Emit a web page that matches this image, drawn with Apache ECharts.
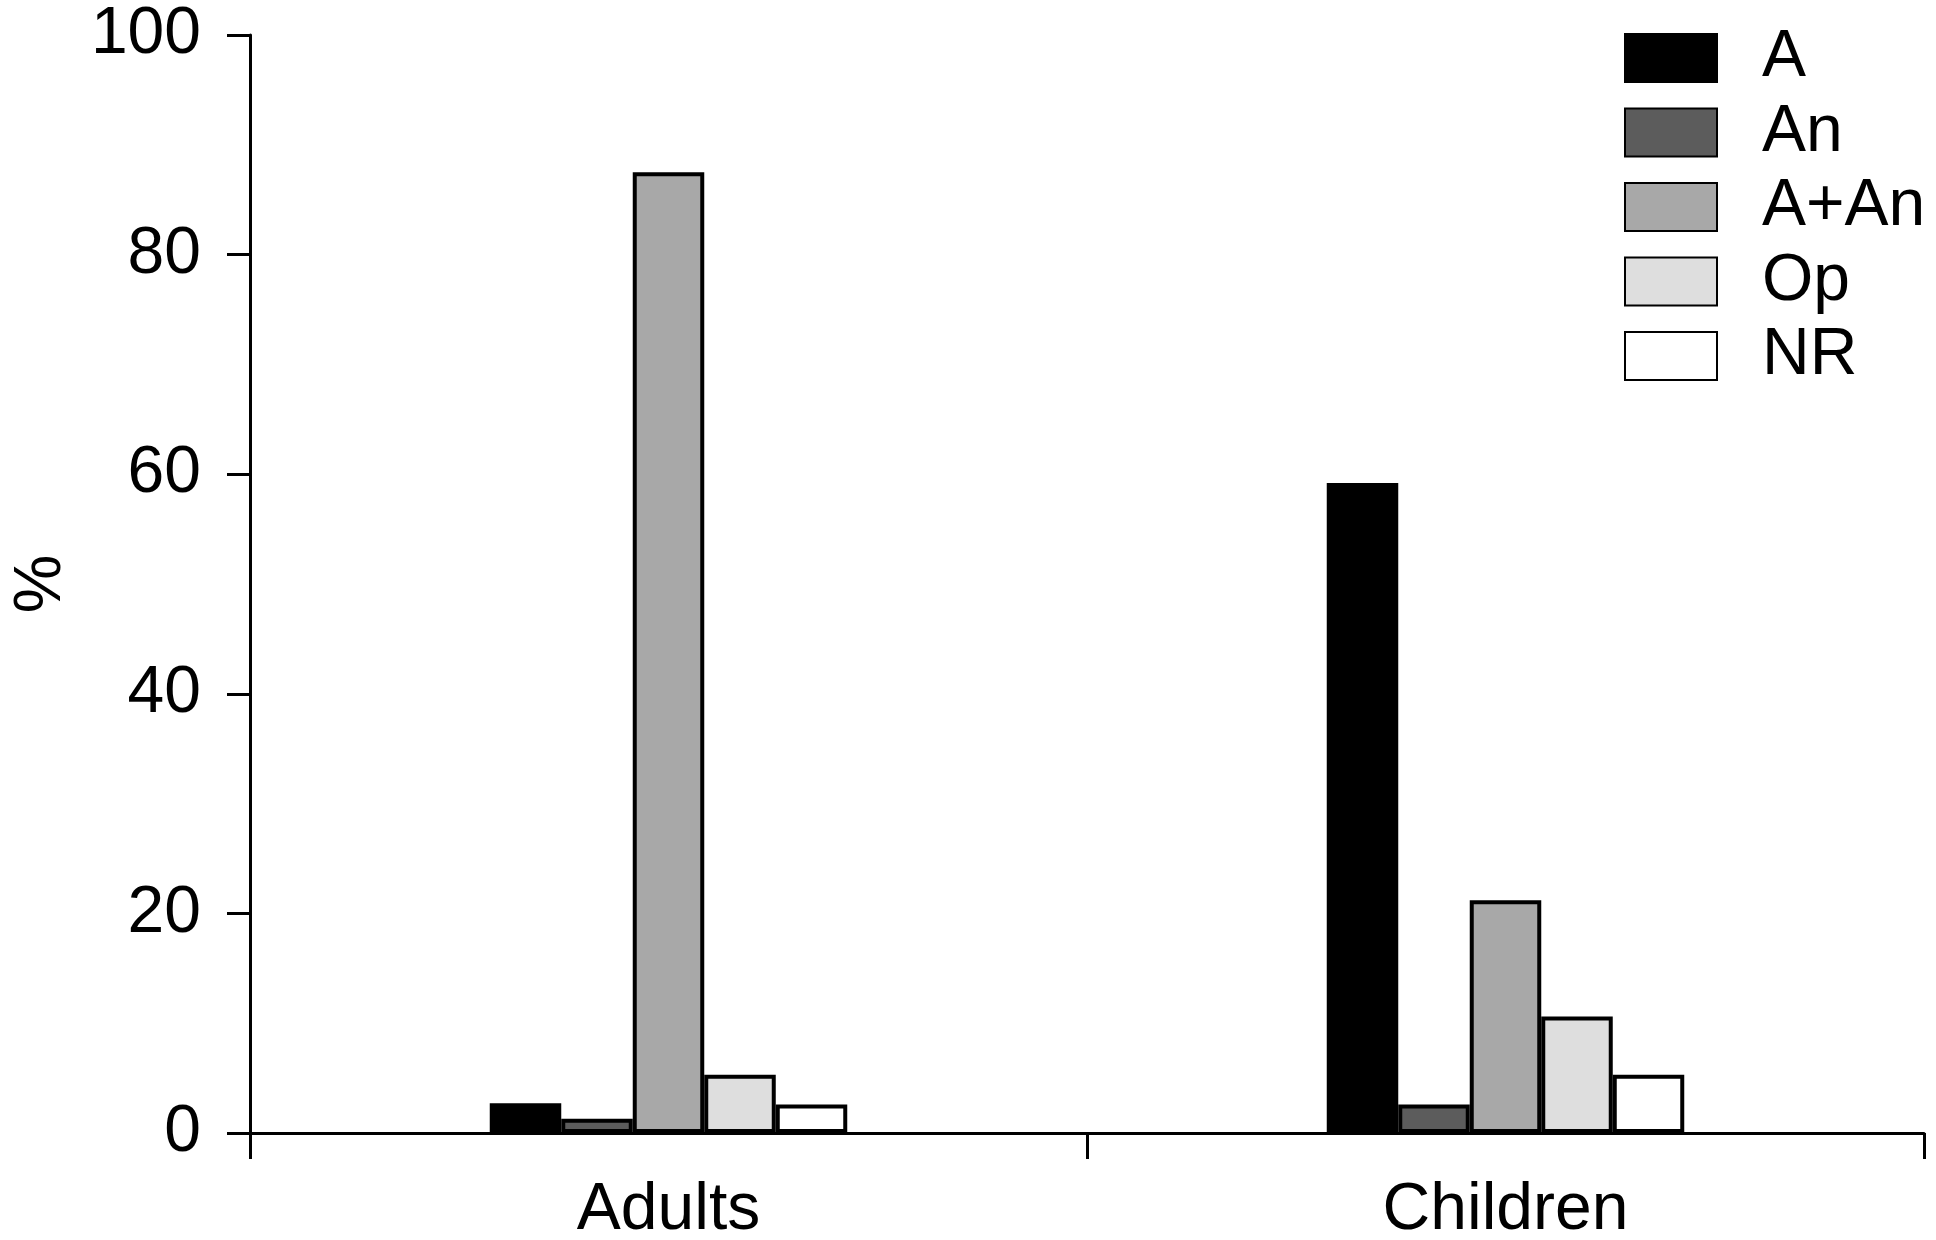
<!DOCTYPE html>
<html>
<head>
<meta charset="utf-8">
<script src="https://cdn.jsdelivr.net/npm/echarts@6/dist/echarts.min.js"></script>
<style>html,body{margin:0;padding:0;background:#fff;}#c{width:1936px;height:1240px;}</style>
</head>
<body>
<div id="c"></div>
<script>
var categories = ['Adults', 'Children'];
var seriesNames = ['A', 'An', 'A+An', 'Op', 'NR'];
var valA = [2.7, 59.2];
var valAn = [1.3, 2.6];
var valAAn = [87.5, 21.2];
var valOp = [5.3, 10.6];
var valNR = [2.6, 5.3];
var yTicks = [0, 20, 40, 60, 80, 100];

var colors = ['#000000', '#5c5c5c', '#a8a8a8', '#dedede', '#ffffff'];
var allVals = [valA, valAn, valAAn, valOp, valNR];
var FONT = '"Liberation Sans", Arial, Helvetica, sans-serif';

var chart = echarts.init(document.getElementById('c'));
chart.setOption({
  backgroundColor: '#ffffff',
  animation: false,
  grid: { left: 250, right: 12, top: 35, bottom: 107, containLabel: false, outerBoundsMode: 'none' },
  legend: {
    orient: 'vertical',
    left: 1619,
    top: 20,
    icon: 'rect',
    itemWidth: 92,
    itemHeight: 48,
    itemGap: 8.5,
    data: seriesNames,
    textStyle: { fontFamily: FONT, fontSize: 66, color: '#000', padding: [0, 0, 0, 40] }
  },
  xAxis: {
    type: 'category',
    data: categories,
    axisLine: { lineStyle: { color: '#000', width: 3 } },
    axisTick: { show: true, length: 26, lineStyle: { color: '#000', width: 3 } },
    axisLabel: { fontFamily: FONT, fontSize: 66, color: '#000', margin: 45 },
    splitLine: { show: false }
  },
  yAxis: {
    type: 'value',
    min: 0,
    max: 100,
    interval: 20,
    name: '%',
    nameLocation: 'middle',
    nameGap: 175,
    nameTextStyle: { fontFamily: FONT, fontSize: 66, color: '#000' },
    axisLine: { show: true, lineStyle: { color: '#000', width: 3 } },
    axisTick: { show: true, length: 23, lineStyle: { color: '#000', width: 3 } },
    axisLabel: {
      fontFamily: FONT, fontSize: 66, color: '#000', margin: 49,
      formatter: function (v) { return yTicks.indexOf(v) >= 0 ? String(v) : ''; }
    },
    splitLine: { show: false }
  },
  series: seriesNames.map(function (n, i) {
    return {
      name: n,
      type: 'bar',
      data: allVals[i],
      barWidth: 71.5,
      barGap: '0%',
      itemStyle: { color: colors[i], borderColor: '#000', borderWidth: 4 }
    };
  })
});
</script>
</body>
</html>
